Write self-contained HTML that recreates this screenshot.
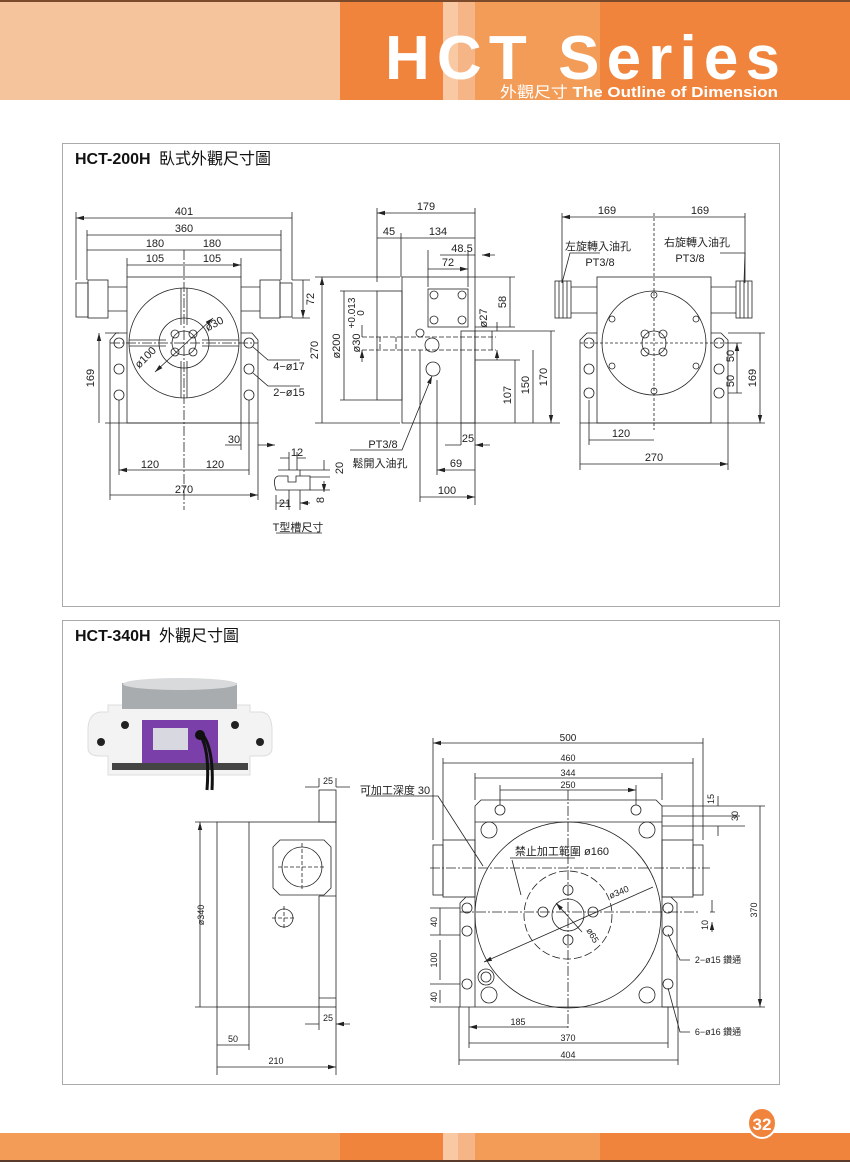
<!DOCTYPE html>
<html><head><meta charset="utf-8">
<style>
html,body{margin:0;padding:0;background:#fff;}
body{width:850px;height:1162px;position:relative;overflow:hidden;font-family:"Liberation Sans","Noto Sans CJK TC",sans-serif;}
svg{position:absolute;left:0;top:0;}
</style></head><body>
<svg width="850" height="1162" viewBox="0 0 850 1162" xmlns="http://www.w3.org/2000/svg" font-family="Liberation Sans, Noto Sans CJK TC, sans-serif">
<defs>
<marker id="a" markerWidth="8" markerHeight="6" refX="8" refY="3" orient="auto-start-reverse" markerUnits="userSpaceOnUse"><path d="M0,0.8 L8,3 L0,5.2z" fill="#222"/></marker>
</defs>
<!-- header -->
<rect x="0" y="0" width="850" height="100" fill="#f6c49c"/>
<rect x="340" y="0" width="103" height="100" fill="#f0843c"/>
<rect x="443" y="0" width="15" height="100" fill="#f8c9a3"/>
<rect x="458" y="0" width="17" height="100" fill="#f5b587"/>
<rect x="475" y="0" width="125" height="100" fill="#f39c58"/>
<rect x="600" y="0" width="250" height="100" fill="#f0843c"/>
<rect x="0" y="0" width="850" height="2" fill="#7a4a2a"/>
<text x="385" y="79" font-size="62" font-weight="bold" fill="#fff" textLength="395" lengthAdjust="spacing">HCT Series</text>
<text x="500" y="97" font-size="15" fill="#fff" textLength="278" lengthAdjust="spacingAndGlyphs">外觀尺寸 <tspan font-weight="bold">The Outline of Dimension</tspan></text>
<!-- footer -->
<rect x="0" y="1133" width="340" height="27" fill="#f39c58"/>
<rect x="340" y="1133" width="103" height="27" fill="#f0843c"/>
<rect x="443" y="1133" width="15" height="27" fill="#f8c9a3"/>
<rect x="458" y="1133" width="17" height="27" fill="#f5b587"/>
<rect x="475" y="1133" width="125" height="27" fill="#f39c58"/>
<rect x="600" y="1133" width="250" height="27" fill="#f0843c"/>
<rect x="0" y="1160" width="850" height="2" fill="#5a3a2a"/>
<ellipse cx="762" cy="1123" rx="14" ry="15" fill="#f0843c" stroke="#fff" stroke-width="2"/>
<text x="762" y="1130" font-size="17" font-weight="bold" fill="#fff" text-anchor="middle">32</text>
<!-- panels -->
<rect x="62.5" y="143.5" width="717" height="463" fill="none" stroke="#aaa"/>
<rect x="62.5" y="620.5" width="717" height="464" fill="none" stroke="#aaa"/>
<text x="75" y="164" font-size="16" font-weight="bold" fill="#111">HCT-200H <tspan font-weight="normal" dx="4">臥式外觀尺寸圖</tspan></text>
<text x="75" y="641" font-size="16" font-weight="bold" fill="#111">HCT-340H <tspan font-weight="normal" dx="4">外觀尺寸圖</tspan></text>

<g stroke="#222" stroke-width="0.8" fill="none">
<!-- ===== view 1 front ===== -->
<rect x="76" y="283" width="12" height="34"/><rect x="88" y="280" width="20" height="38"/><line x1="108" y1="287" x2="127" y2="287"/><line x1="108" y1="311" x2="127" y2="311"/>
<rect x="280" y="283" width="12" height="34"/><rect x="260" y="280" width="20" height="38"/><line x1="241" y1="287" x2="260" y2="287"/><line x1="241" y1="311" x2="260" y2="311"/>
<rect x="127" y="277" width="114" height="146"/>
<path d="M110,423 V340 L116,333 H127 M241,333 H252 L258,340 V423 H110"/>
<circle cx="184" cy="343" r="55"/><circle cx="184" cy="343" r="25"/><circle cx="184" cy="343" r="12"/>
<path d="M181,288 V325 M187,288 V325 M181,361 V398 M187,361 V398 M129,340 H166 M129,346 H166 M202,340 H239 M202,346 H239"/>
<circle cx="175" cy="334" r="4"/><circle cx="193" cy="334" r="4"/><circle cx="175" cy="352" r="4"/><circle cx="193" cy="352" r="4"/>
<circle cx="119" cy="343" r="5"/><circle cx="119" cy="369" r="5"/><circle cx="119" cy="395" r="5"/>
<circle cx="249" cy="343" r="5"/><circle cx="249" cy="369" r="5"/><circle cx="249" cy="395" r="5"/>
<path d="M184,250 V510 M110,343 H258" stroke-dasharray="10,2,2,2"/>
<path d="M76,280 V212 M292,280 V212 M87,280 V230 M281,280 V230 M127,277 V258 M241,277 V258"/>
<path d="M76,218 H292 M87,235 H281 M87,250 H281 M127,265 H241" marker-start="url(#a)" marker-end="url(#a)"/>
<path d="M99,333 V423 M303,280 V318" marker-start="url(#a)" marker-end="url(#a)"/>
<path d="M105,333 H119 M105,423 H110 M292,280 H310 M292,318 H310"/>
<path d="M119,400 V475 M249,400 V475 M110,423 V500 M258,423 V500 M241,423 V450"/>
<path d="M119,470 H184 M184,470 H249 M110,495 H258" marker-start="url(#a)" marker-end="url(#a)"/>
<path d="M225,445 H241 M258,445 H275" marker-end="url(#a)"/>
<path d="M253,347 L268,360 H300 M253,373 L268,386 H300"/>
<path d="M155,372 L213,318" marker-start="url(#a)" marker-end="url(#a)"/>
<!-- T slot -->
<path d="M278,470 H300 V476 H296 V482 H288 V476 H278 Q272,478 276,490 H310 V476 H300"/>
<path d="M289,452 V470 M297,452 V470 M289,490 V510 M300,490 V510 M276,495 V510"/>
<path d="M280,458 H289 M306,458 H297 M276,503 H289 M310,503 H300" marker-end="url(#a)"/>
<path d="M300,470 H330 M310,477 H330 M310,490 H330 M324,460 V470 M324,481 V492" marker-end="url(#a)"/>
<line x1="276" y1="533" x2="322" y2="533"/>

<!-- ===== view 1 side ===== -->
<rect x="402" y="277" width="73" height="146"/><rect x="377" y="291" width="25" height="109"/>
<rect x="428" y="289" width="40" height="38"/>
<circle cx="434" cy="295" r="4"/><circle cx="462" cy="295" r="4"/><circle cx="434" cy="320" r="4"/><circle cx="462" cy="320" r="4"/>
<circle cx="432" cy="345" r="7"/><circle cx="433" cy="369" r="7"/><circle cx="420" cy="333" r="4"/>
<rect x="461" y="331" width="14" height="92"/>
<path d="M362,337 H496 M362,350 H496 M380,337 V350 M396,337 V350" stroke-dasharray="5,2"/>
<path d="M377,282 V208 M475,277 V208 M401,277 V233 M428,287 V250 M468,287 V250 M475,248 V258"/>
<path d="M377,213 H475 M377,238 H401 M401,238 H475 M428,269 H468" marker-start="url(#a)" marker-end="url(#a)"/>
<path d="M440,255 H475 M495,255 H482" marker-end="url(#a)"/>
<path d="M315,277 H400 M315,423 H400 M340,291 H377 M340,400 H377 M475,277 H515 M475,327 H515 M475,423 H560 M475,360 H520 M475,331 H555 M492,331 V350"/>
<path d="M322,277 V423 M344,291 V400 M510,277 V327 M515,360 V423 M533,350 V423 M551,331 V423" marker-start="url(#a)" marker-end="url(#a)"/>
<path d="M362,325 V337 M362,362 V350" marker-end="url(#a)"/>
<path d="M497,322 V331 M497,360 V350" marker-end="url(#a)"/>
<path d="M461,423 V445 M475,423 V505 M437,380 V475 M420,350 V502"/>
<path d="M445,445 H461 M490,445 H475" marker-end="url(#a)"/>
<path d="M437,470 H475 M420,497 H475" marker-start="url(#a)" marker-end="url(#a)"/>
<path d="M350,450 H402 L432,376" marker-end="url(#a)"/>

<!-- ===== view 1 back ===== -->
<rect x="555" y="281" width="16" height="37"/><path d="M559,281 V318 M563,281 V318 M567,281 V318"/><line x1="571" y1="287" x2="597" y2="287"/><line x1="571" y1="313" x2="597" y2="313"/>
<rect x="736" y="281" width="16" height="37"/><path d="M740,281 V318 M744,281 V318 M748,281 V318"/><line x1="711" y1="287" x2="736" y2="287"/><line x1="711" y1="313" x2="736" y2="313"/>
<rect x="597" y="277" width="114" height="146"/>
<path d="M580,423 V340 L587,333 H597 M711,333 H721 L728,340 V423 H580"/>
<circle cx="654" cy="343" r="52"/><circle cx="654" cy="343" r="12"/>
<circle cx="654" cy="295" r="3"/><circle cx="654" cy="391" r="3"/><circle cx="612" cy="319" r="3"/><circle cx="696" cy="319" r="3"/><circle cx="612" cy="366" r="3"/><circle cx="696" cy="366" r="3"/>
<circle cx="645" cy="334" r="4"/><circle cx="663" cy="334" r="4"/><circle cx="645" cy="352" r="4"/><circle cx="663" cy="352" r="4"/>
<circle cx="589" cy="343" r="5"/><circle cx="589" cy="369" r="5"/><circle cx="589" cy="393" r="5"/>
<circle cx="719" cy="343" r="5"/><circle cx="719" cy="369" r="5"/><circle cx="719" cy="393" r="5"/>
<path d="M654,213 V430 M580,343 H728" stroke-dasharray="3,2"/>
<path d="M562,283 V213 M745,283 V213"/>
<path d="M562,217 H654 M654,217 H745 M589,440 H654 M580,464 H728" marker-start="url(#a)" marker-end="url(#a)"/>
<path d="M737,343 V369 M737,369 V393 M760,333 V423" marker-start="url(#a)" marker-end="url(#a)"/>
<path d="M728,343 H742 M728,393 H742 M728,333 H765 M728,423 H765 M589,400 V445 M580,423 V470 M728,423 V470"/>
<path d="M600,253 H570 L562,283 M720,253 H745 L744,283"/>
</g>
<g>
<path d="M88,730 Q88,714 100,712 H108 V705 H250 V712 H262 Q272,714 272,730 V748 Q272,756 262,756 H250 V775 H108 V756 H100 Q88,756 88,748Z" fill="#f3f3f3" stroke="#ddd"/>
<rect x="122" y="683" width="115" height="26" fill="#a9acae"/>
<ellipse cx="180" cy="684" rx="57" ry="6" fill="#d9dadb"/>
<rect x="142" y="720" width="76" height="46" fill="#7a3fa8"/>
<rect x="153" y="728" width="35" height="22" fill="#d8d8e0"/>
<rect x="112" y="763" width="136" height="7" fill="#444"/>
<circle cx="101" cy="742" r="4" fill="#222"/><circle cx="260" cy="742" r="4" fill="#222"/><circle cx="125" cy="725" r="4" fill="#222"/><circle cx="235" cy="725" r="4" fill="#222"/>
<path d="M200,735 Q210,750 207,790 M203,735 Q214,750 212,790" stroke="#111" stroke-width="3" fill="none"/>
<circle cx="200" cy="735" r="5" fill="#111"/>
</g>
<g stroke="#222" stroke-width="0.8" fill="none">
<!-- ===== view 2 side ===== -->
<rect x="217" y="822" width="119" height="185"/><line x1="249" y1="822" x2="249" y2="1007"/>
<rect x="319" y="790" width="17" height="32"/><path d="M319,896 V1007 M319,896 H336 M319,998 H336"/>
<path d="M280,840 H324 L331,847 V888 L324,895 H280 L273,888 V847Z"/>
<circle cx="302" cy="867" r="20"/><circle cx="284" cy="918" r="9"/>
<path d="M302,843 V891 M278,867 H326 M272,918 H296 M284,906 V930" stroke-dasharray="4,2"/>
<path d="M319,787 V778 M336,787 V778 M319,1007 V1030 M336,1007 V1030 M217,1007 V1075 M249,1007 V1050 M336,1030 V1075 M195,822 H217 M195,1007 H217"/>
<path d="M305,787 H319 M350,787 H336 M305,1024 H319 M350,1024 H336" marker-end="url(#a)"/>
<path d="M200,822 V1007 M217,1045 H249 M217,1067 H336" marker-start="url(#a)" marker-end="url(#a)"/>
<!-- ===== view 2 front ===== -->
<rect x="433" y="845" width="10" height="50"/><rect x="443" y="840" width="32" height="57"/>
<rect x="693" y="845" width="10" height="50"/><rect x="662" y="840" width="31" height="57"/>
<path d="M475,822 V806 L481,800 H656 L662,806 V822 M475,822 H662"/>
<path d="M475,822 V1007 M662,822 V1007"/>
<path d="M460,1007 V903 L466,897 H475 M662,897 H671 L677,903 V1007 H460"/>
<circle cx="568" cy="915" r="93"/>
<circle cx="568" cy="915" r="44" stroke-dasharray="8,3"/><circle cx="568" cy="915" r="16"/>
<circle cx="568" cy="890" r="5"/><circle cx="568" cy="940" r="5"/><circle cx="543" cy="912" r="5"/><circle cx="593" cy="912" r="5"/>
<circle cx="500" cy="810" r="5"/><circle cx="636" cy="810" r="5"/>
<circle cx="489" cy="830" r="8"/><circle cx="647" cy="830" r="8"/><circle cx="489" cy="995" r="8"/><circle cx="647" cy="995" r="8"/>
<circle cx="486" cy="977" r="8"/><circle cx="486" cy="977" r="5"/>
<circle cx="467" cy="908" r="5"/><circle cx="467" cy="931" r="5"/><circle cx="467" cy="984" r="5"/>
<circle cx="668" cy="908" r="5"/><circle cx="668" cy="931" r="5"/><circle cx="668" cy="984" r="5"/>
<path d="M568,790 V1030 M430,868 H710 M460,912 H700" stroke-dasharray="10,2,2,2"/>
<path d="M433,840 V738 M703,840 V738 M443,840 V758 M693,840 V758 M475,800 V773 M662,800 V773 M500,805 V785 M636,805 V785"/>
<path d="M433,743 H703 M443,763 H693 M475,778 H662 M500,790 H636" marker-start="url(#a)" marker-end="url(#a)"/>
<path d="M469,1007 V1048 M668,1007 V1048 M459,1007 V1065 M678,1007 V1065"/>
<path d="M469,1027 H568 M469,1043 H668 M459,1060 H678 M760,806 V1007" marker-start="url(#a)" marker-end="url(#a)"/>
<path d="M662,806 H765 M662,1007 H765 M662,816 H740 M662,826 H745 M710,912 H715"/>
<path d="M718,796 V806 M718,836 V826 M712,900 V912 M712,932 V922" marker-end="url(#a)"/>
<path d="M440,935 V908 M440,940 V980 M440,990 V1003 M430,908 H460 M430,935 H460 M430,984 H460 M430,1007 H460"/>
<path d="M484,962 L653,887" marker-start="url(#a)"/>
<path d="M556,903 L582,932" marker-start="url(#a)"/>
<path d="M366,796 H438 L483,866 M510,858 H575 M512,860 L521,895 M668,934 L680,960 H690 M668,988 L680,1032 H690"/>
</g>
<g font-size="11" fill="#222" text-anchor="middle">
<text x="184" y="215">401</text><text x="184" y="232">360</text><text x="155" y="247">180</text><text x="212" y="247">180</text>
<text x="155" y="262">105</text><text x="212" y="262">105</text>
<text x="150" y="468">120</text><text x="215" y="468">120</text><text x="184" y="493">270</text><text x="234" y="443">30</text>
<text x="216" y="327" transform="rotate(-28 216 327)">ø30</text><text x="148" y="360" transform="rotate(-45 148 360)">ø100</text>
<text x="289" y="370">4−ø17</text><text x="289" y="396">2−ø15</text>
<text x="94" y="378" transform="rotate(-90 94 378)">169</text><text x="314" y="299" transform="rotate(-90 314 299)">72</text>
<text x="297" y="456">12</text><text x="285" y="507">21</text>
<text x="343" y="468" transform="rotate(-90 343 468)">20</text><text x="324" y="500" transform="rotate(-90 324 500)">8</text>
<text x="298" y="531">T型槽尺寸</text>
<text x="426" y="210">179</text><text x="389" y="235">45</text><text x="438" y="235">134</text><text x="462" y="252">48.5</text><text x="448" y="266">72</text>
<text x="318" y="350" transform="rotate(-90 318 350)">270</text><text x="340" y="346" transform="rotate(-90 340 346)">ø200</text>
<text x="355" y="313" transform="rotate(-90 355 313)" font-size="10">+0.013</text><text x="364" y="313" transform="rotate(-90 364 313)" font-size="10">0</text>
<text x="360" y="343" transform="rotate(-90 360 343)">ø30</text><text x="487" y="318" transform="rotate(-90 487 318)">ø27</text>
<text x="506" y="302" transform="rotate(-90 506 302)">58</text><text x="511" y="395" transform="rotate(-90 511 395)">107</text>
<text x="529" y="385" transform="rotate(-90 529 385)">150</text><text x="547" y="377" transform="rotate(-90 547 377)">170</text>
<text x="468" y="442">25</text><text x="456" y="467">69</text><text x="447" y="494">100</text>
<text x="383" y="448">PT3/8</text><text x="380" y="467">鬆開入油孔</text>
<text x="607" y="214">169</text><text x="700" y="214">169</text>
<text x="598" y="250">左旋轉入油孔</text><text x="600" y="266">PT3/8</text>
<text x="697" y="246">右旋轉入油孔</text><text x="690" y="262">PT3/8</text>
<text x="621" y="437">120</text><text x="654" y="461">270</text>
<text x="734" y="356" transform="rotate(-90 734 356)">50</text><text x="734" y="381" transform="rotate(-90 734 381)">50</text><text x="756" y="378" transform="rotate(-90 756 378)">169</text>
</g>
<g font-size="9" fill="#222" text-anchor="middle">
<text x="568" y="741" font-size="10">500</text><text x="568" y="761">460</text><text x="568" y="776">344</text><text x="568" y="788">250</text>
<text x="518" y="1025">185</text><text x="568" y="1041">370</text><text x="568" y="1058">404</text>
<text x="757" y="910" transform="rotate(-90 757 910)">370</text>
<text x="714" y="799" transform="rotate(-90 714 799)">15</text><text x="738" y="816" transform="rotate(-90 738 816)">30</text>
<text x="708" y="925" transform="rotate(-90 708 925)">10</text>
<text x="437" y="922" transform="rotate(-90 437 922)">40</text><text x="437" y="960" transform="rotate(-90 437 960)">100</text><text x="437" y="997" transform="rotate(-90 437 997)">40</text>
<text x="620" y="895" transform="rotate(-22 620 895)">ø340</text><text x="590" y="937" transform="rotate(60 590 937)">ø65</text>
<text x="718" y="963">2−ø15 鑽通</text><text x="718" y="1035">6−ø16 鑽通</text>
<text x="204" y="915" transform="rotate(-90 204 915)">ø340</text>
<text x="328" y="784">25</text><text x="328" y="1021">25</text><text x="233" y="1042">50</text><text x="276" y="1064">210</text>
<text x="395" y="794" font-size="11">可加工深度 30</text>
<text x="562" y="855" font-size="11">禁止加工範圍  ø160</text>
</g>
</svg>
</body></html>
